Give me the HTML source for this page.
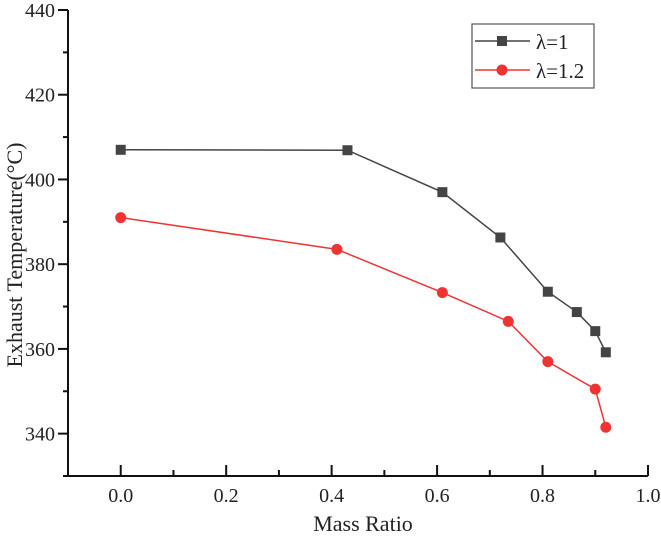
<!DOCTYPE html>
<html><head><meta charset="utf-8"><style>
body{margin:0;background:#fff}
text{font-family:"Liberation Serif",serif;fill:#222}
</style></head><body>
<svg id="c" width="661" height="540"></svg>
<script>
const xTicks=[0.0,0.2,0.4,0.6,0.8,1.0];
const yTicks=[340,360,380,400,420,440];
const s1x=[0,0.43,0.61,0.72,0.81,0.865,0.90,0.92];
const s1y=[407,406.9,397,386.3,373.5,368.7,364.2,359.2];
const s2x=[0,0.41,0.61,0.735,0.81,0.90,0.92];
const s2y=[391,383.5,373.3,366.5,357,350.5,341.5];
const L=68,R=648,T=10,B=476,xmin=-0.1,xmax=1.0,ymin=330,ymax=440;
const X=v=>L+(v-xmin)/(xmax-xmin)*(R-L);
const Y=v=>T+(ymax-v)/(ymax-ymin)*(B-T);
const svg=document.getElementById('c');const NS='http://www.w3.org/2000/svg';
function mk(t,a,p){const e=document.createElementNS(NS,t);for(const k in a)e.setAttribute(k,a[k]);(p||svg).appendChild(e);return e;}
const ax=mk('g',{});


mk('path',{d:`M${L},${T} V${B} H${R}`,stroke:'#111','stroke-width':2,fill:'none'},ax);
for(let v=-0.1;v<=1.0001;v+=0.1){const x=X(v);const major=Math.abs(Math.round(v*10)%2)===0;mk('line',{x1:x,x2:x,y1:B,y2:B-(major?11:6),stroke:'#111','stroke-width':2},ax);}
xTicks.forEach(v=>{const t=mk('text',{x:X(v),y:B+26,'text-anchor':'middle','font-size':20},ax);t.textContent=v.toFixed(1);
});
for(let v=330;v<=440;v+=10){const y=Y(v);const major=v%20===0;mk('line',{x1:L,x2:L-(major?10:5),y1:y,y2:y,stroke:'#111','stroke-width':2},ax);}
yTicks.forEach(v=>{const t=mk('text',{x:L-13,y:Y(v)+7,'text-anchor':'end','font-size':20},ax);t.textContent=v;
});
const xt=mk('text',{x:(L+R)/2+5,y:531,'text-anchor':'middle','font-size':22});xt.textContent='Mass Ratio';

const yt=mk('text',{x:0,y:0,'text-anchor':'middle','font-size':22,transform:`translate(22,${(T+B)/2+12}) rotate(-90)`});yt.textContent='Exhaust Temperature(°C)';

function series(xs,ys,col,sq,name){const g=mk('g',{});
mk('polyline',{points:xs.map((x,i)=>X(x)+','+Y(ys[i])).join(' '),fill:'none',stroke:col,'stroke-width':1.5},g);
xs.forEach((x,i)=>{const m=sq?mk('rect',{x:X(x)-5,y:Y(ys[i])-5,width:10,height:10,fill:col},g):mk('circle',{cx:X(x),cy:Y(ys[i]),r:5.5,fill:col},g);
});}
series(s1x,s1y,'#444',true,'series-lambda-1');
series(s2x,s2y,'#ee3333',false,'series-lambda-1-2');
const lg=mk('g',{});
mk('rect',{x:472,y:24,width:122,height:64,fill:'#fff',stroke:'#555','stroke-width':1.2},lg);
mk('line',{x1:475,x2:530,y1:41,y2:41,stroke:'#444','stroke-width':1.5},lg);mk('rect',{x:497,y:36,width:10,height:10,fill:'#444'},lg);
mk('line',{x1:475,x2:530,y1:70,y2:70,stroke:'#ee3333','stroke-width':1.5},lg);mk('circle',{cx:502,cy:70,r:5.5,fill:'#ee3333'},lg);
let t1=mk('text',{x:536,y:49,'font-size':21},lg);t1.textContent='λ=1';
let t2=mk('text',{x:536,y:78,'font-size':21},lg);t2.textContent='λ=1.2';
</script>
</body></html>
